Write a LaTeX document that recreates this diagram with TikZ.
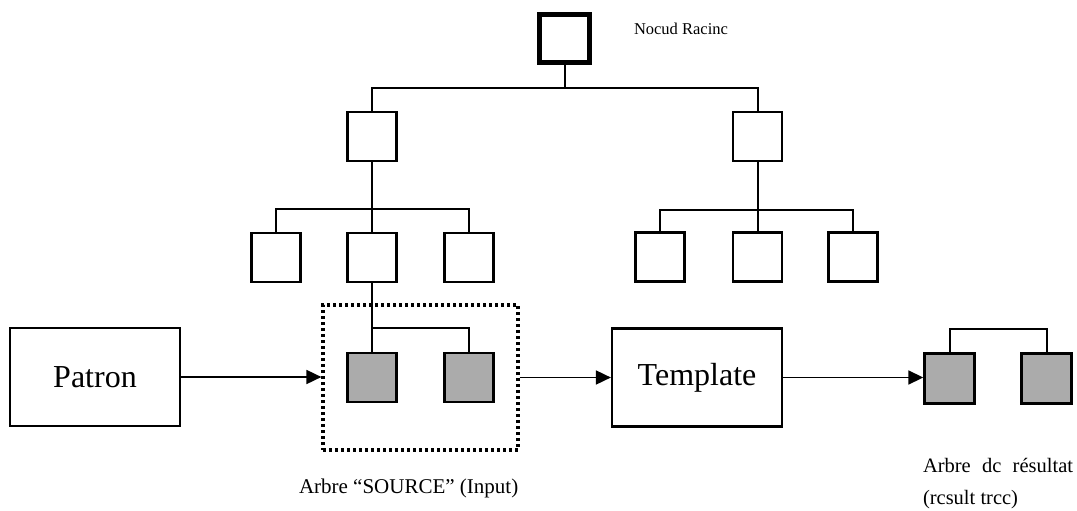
\documentclass[tikz,border=0pt]{standalone}
\usepackage{fontspec}
\setmainfont{Liberation Serif}
\usetikzlibrary{arrows.meta}
\begin{document}
\begin{tikzpicture}[x=1pt,y=-1pt,
  line width=2pt,
  box/.style={draw,line width=2.4pt,minimum width=49pt,minimum height=49pt,inner sep=0pt},
  shaded/.style={box,fill=black!33},
  bigbox/.style={draw,line width=2.2pt,minimum width=170pt,minimum height=98pt,font=\fontsize{32}{36}\selectfont},
  lbl/.style={font=\fontsize{16.5}{20}\selectfont,inner sep=0pt},
  biglbl/.style={font=\fontsize{21}{24}\selectfont,inner sep=0pt},
  arr/.style={-{Triangle[length=15pt,width=14pt]},line width=1.8pt}]
\useasboundingbox (0,0) rectangle (1077,511);
% root
\node[box,line width=4.5pt,minimum width=50pt,minimum height=48pt] (root) at (564.5,38.5) {};
\node[lbl,anchor=west] (rootlbl) at (633,29) {Nocud Racinc};
% level 1
\node[box] (a) at (372,136.5) {};
\node[box] (b) at (757.5,136.5) {};
% level 2
\node[box] (a1) at (276,257.5) {};
\node[box] (a2) at (372,257.5) {};
\node[box] (a3) at (469,257.5) {};
\node[box] (b1) at (660,257) {};
\node[box] (b2) at (757.5,257) {};
\node[box] (b3) at (853,257) {};
% source children
\node[shaded] (s1) at (372,377.5) {};
\node[shaded] (s2) at (469,377.5) {};
% dotted frame
\node[draw,line width=3.2pt,dash pattern=on 3pt off 3pt,minimum width=195pt,minimum height=145pt,inner sep=0pt] (frame) at (420.5,377.5) {};
% big boxes
\node[bigbox] (patron) at (95,377) {Patron};
\node[bigbox] (template) at (697,377.5) {Template};
% result
\node[shaded,minimum width=50pt,minimum height=50pt] (r1) at (949.5,378.5) {};
\node[shaded,minimum width=50pt,minimum height=50pt] (r2) at (1046.5,378.5) {};
% labels
\node[biglbl,anchor=west] (srclbl) at (298,488) {Arbre ``SOURCE'' (Input)};
\node[biglbl,font=\fontsize{20.5}{24}\selectfont,anchor=west] (reslbl1) at (922,465) {Arbre\hspace{0.55em}dc\hspace{0.55em}résultat};
\node[biglbl,font=\fontsize{20.5}{24}\selectfont,anchor=west] (reslbl2) at (922,500) {(rcsult trcc)};
% tree edges
\coordinate (j0) at (564.5,88);
\draw (root.south) -- (j0);
\draw (a.north) |- (j0) -| (b.north);
\coordinate (ja) at (372,209);
\draw (a.south) -- (a2.north);
\draw (a1.north) |- (ja) -| (a3.north);
\coordinate (jb) at (757.5,209.5);
\draw (b.south) -- (b2.north);
\draw (b1.north) |- (jb) -| (b3.north);
\coordinate (js) at (372,328);
\draw (a2.south) -- (s1.north);
\draw (js) -| (s2.north);
\coordinate (jr) at (998,329);
\draw (r1.north) |- (jr) -| (r2.north);
% flow arrows
\draw[arr] (patron.east) -- (frame.west |- patron.east);
\draw[arr] (frame.east |- template.west) -- (template.west);
\draw[arr] (template.east) -- (r1.west |- template.east);
\end{tikzpicture}
\end{document}
